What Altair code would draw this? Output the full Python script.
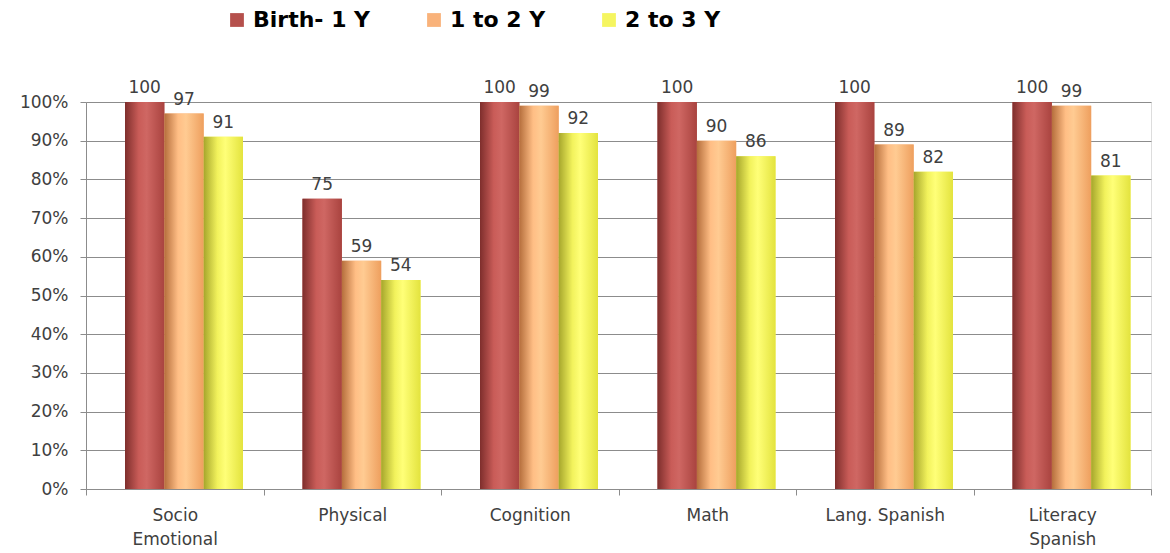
import altair as alt
import pandas as pd

categories = ["Socio Emotional", "Physical", "Cognition", "Math", "Lang. Spanish", "Literacy Spanish"]
series = ["Birth- 1 Y", "1 to 2 Y", "2 to 3 Y"]
birth_1 = [100, 75, 100, 100, 100, 100]
one_2 = [97, 59, 99, 90, 89, 99]
two_3 = [91, 54, 92, 86, 82, 81]
y_ticks = [0, 10, 20, 30, 40, 50, 60, 70, 80, 90, 100]

rows = []
for s, vals in zip(series, [birth_1, one_2, two_3]):
    for c, v in zip(categories, vals):
        rows.append({"category": c, "series": s, "value": v})
df = pd.DataFrame(rows)

solid = ["#B5504C", "#F9B27A", "#F5F560"]
grads = [
    ["#7E2E2C", "#C95C58", "#CF6763", "#A9433F"],
    ["#B56E3C", "#FFBE85", "#FFCB92", "#EE9F5E"],
    ["#A6A62C", "#F2F25C", "#FFFF78", "#E3E33E"],
]

FONT = "DejaVu Sans"
GRAY = "#404040"

x_enc = alt.X("category:N", sort=categories,
              scale=alt.Scale(paddingInner=0, paddingOuter=0),
              axis=alt.Axis(title=None, labelAngle=0, labelFont=FONT, labelFontSize=17,
                            labelColor=GRAY, labelPadding=12, labelLineHeight=24,
                            tickBand="extent", tickSize=6, tickColor="#8C8C8C",
                            domainColor="#8C8C8C", grid=False,
                            labelExpr="datum.label == 'Lang. Spanish' ? datum.label : split(datum.label, ' ')"))
y_enc = alt.Y("value:Q", scale=alt.Scale(domain=[0, 100], nice=False),
              axis=alt.Axis(title=None, values=y_ticks, labelExpr="datum.value + '%'",
                            labelFont=FONT, labelFontSize=17, labelColor=GRAY,
                            labelPadding=12, tickSize=6, tickColor="#8C8C8C",
                            domainColor="#8C8C8C", gridColor="#8C8C8C", gridWidth=1))
xo_enc = alt.XOffset("series:N", sort=series,
                     scale=alt.Scale(domain=series, range=[39, 157], paddingInner=0, paddingOuter=0))

base = alt.Chart(df)

legend_bars = base.mark_bar().encode(
    x=x_enc, y=y_enc, xOffset=xo_enc,
    color=alt.Color("series:N", sort=series,
                    scale=alt.Scale(domain=series, range=solid),
                    legend=alt.Legend(title=None, orient="none", direction="horizontal",
                                      legendX=140, legendY=-93, symbolType="square",
                                      symbolSize=190, symbolStrokeWidth=0,
                                      labelFont=FONT, labelFontSize=22, labelFontWeight="bold",
                                      labelColor="#000000", columnPadding=52, labelOffset=5,
                                      labelLimit=300))
)

layers = [legend_bars]
for s, g in zip(series, grads):
    grad = {
        "gradient": "linear", "x1": 0, "x2": 1, "y1": 0, "y2": 0,
        "stops": [
            {"offset": 0, "color": g[0]},
            {"offset": 0.35, "color": g[1]},
            {"offset": 0.55, "color": g[2]},
            {"offset": 1, "color": g[3]},
        ],
    }
    layers.append(
        base.transform_filter(alt.datum.series == s).mark_bar().encode(
            x=x_enc, y=y_enc, xOffset=xo_enc, color=alt.value(grad)
        )
    )

labels = base.mark_text(baseline="bottom", dy=-5, font=FONT, fontSize=17, color=GRAY).encode(
    x=x_enc, y=y_enc, xOffset=xo_enc, text="value:Q"
)
layers.append(labels)

chart = alt.layer(*layers).properties(
    width=1065, height=387,
    autosize=alt.AutoSizeParams(type="none"),
    padding={"left": 78, "top": 94, "right": 10, "bottom": 60},
).configure_view(stroke=None).configure(background="white")

chart.save("out.html", embed_options={"renderer": "svg", "actions": False})
